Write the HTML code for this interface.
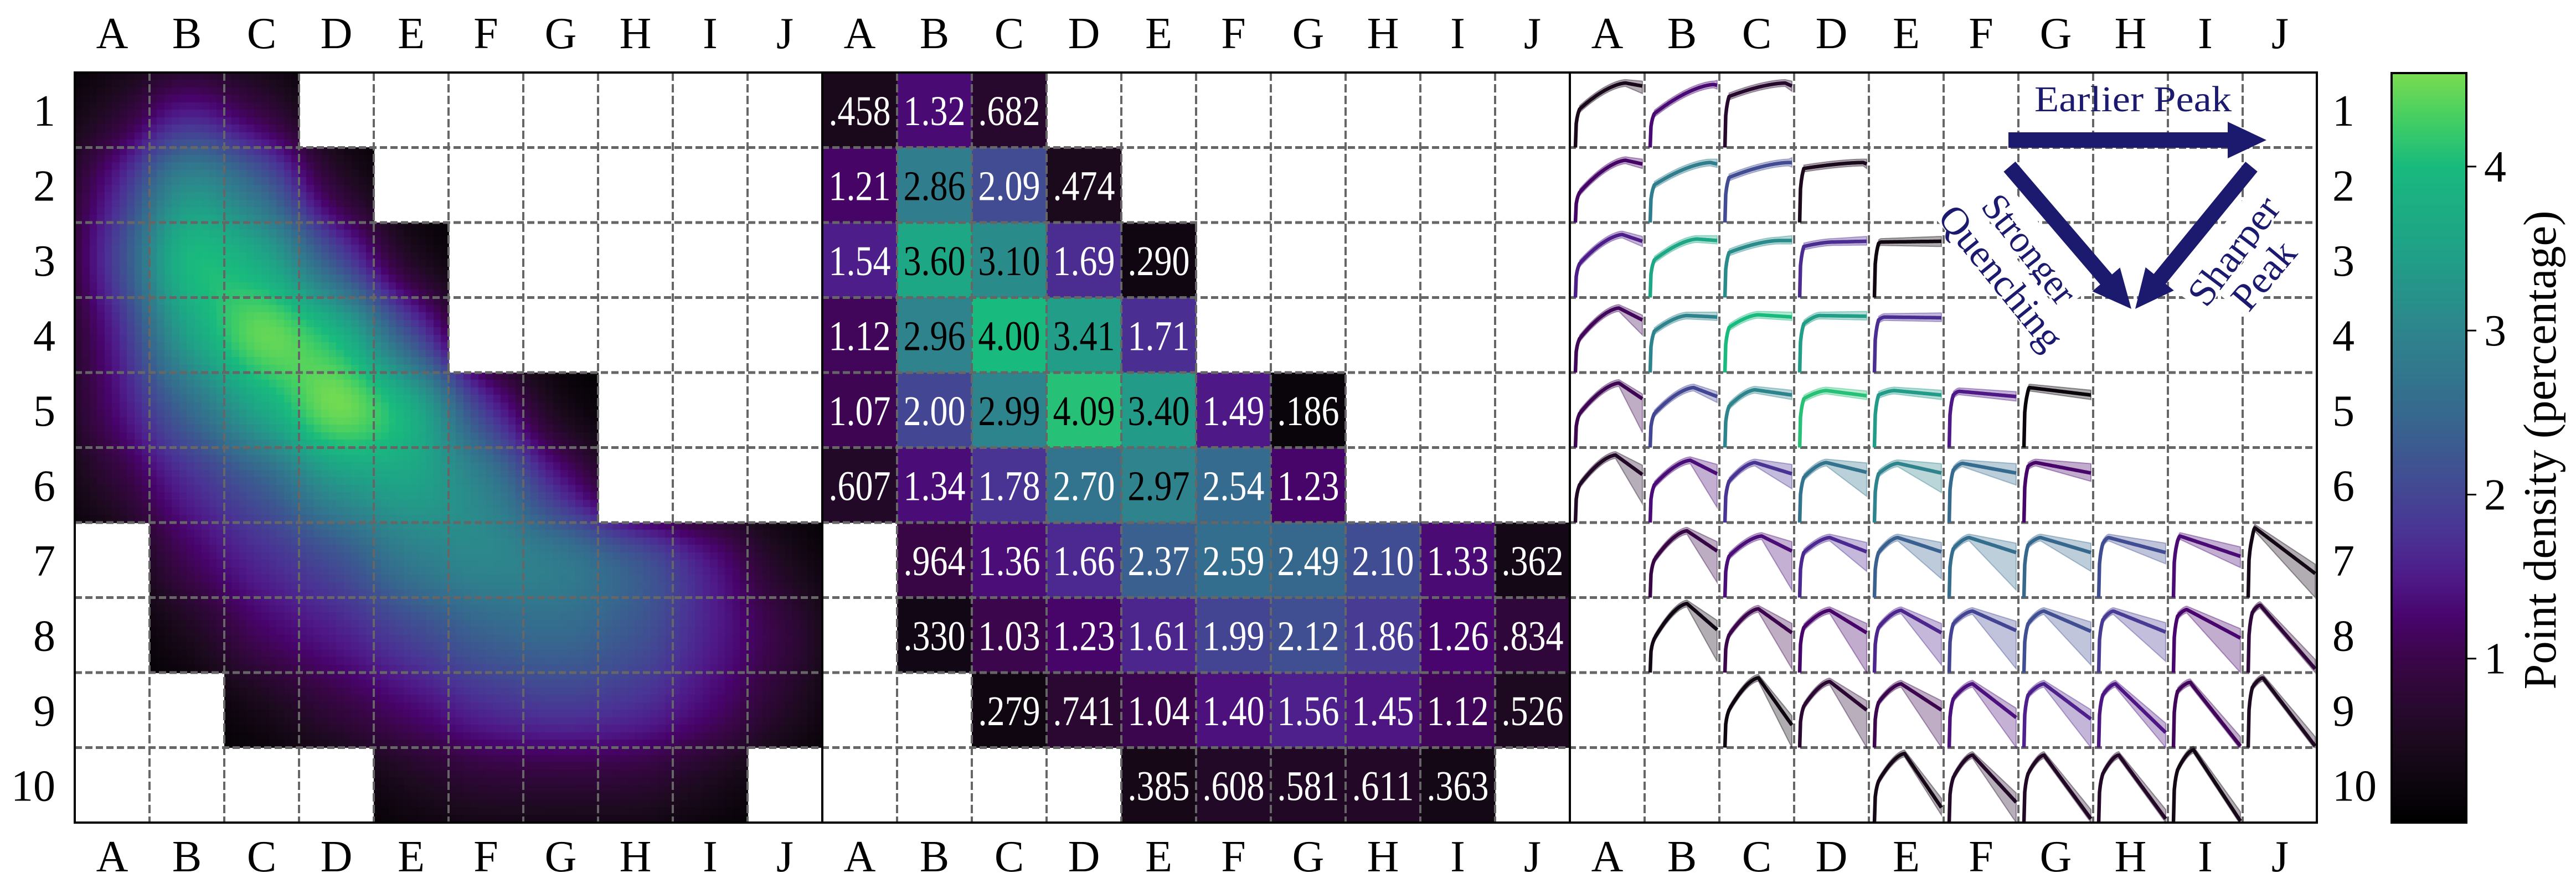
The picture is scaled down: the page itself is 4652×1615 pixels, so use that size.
<!DOCTYPE html>
<html><head><meta charset="utf-8">
<style>
html,body{margin:0;padding:0;background:#fff;}
#wrap{position:relative;width:4652px;height:1615px;overflow:hidden;background:#fff;}
#dens{position:absolute;left:135px;top:131px;}
#svg{position:absolute;left:0;top:0;}
text{font-family:"Liberation Serif",serif;}
</style></head>
<body>
<div id="wrap">
<canvas id="dens" width="1350" height="1355"></canvas>
<svg id="svg" width="4652" height="1615" xmlns="http://www.w3.org/2000/svg"></svg>
</div>
<script>
// ---------- data ----------
const colLabels = ['A','B','C','D','E','F','G','H','I','J'];
const rowLabels = ['1','2','3','4','5','6','7','8','9','10'];
const _ = null;
const cellDensity = [
[0.458,1.32,0.682,_,_,_,_,_,_,_],
[1.21,2.86,2.09,0.474,_,_,_,_,_,_],
[1.54,3.60,3.10,1.69,0.290,_,_,_,_,_],
[1.12,2.96,4.00,3.41,1.71,_,_,_,_,_],
[1.07,2.00,2.99,4.09,3.40,1.49,0.186,_,_,_],
[0.607,1.34,1.78,2.70,2.97,2.54,1.23,_,_,_],
[_,0.964,1.36,1.66,2.37,2.59,2.49,2.10,1.33,0.362],
[_,0.330,1.03,1.23,1.61,1.99,2.12,1.86,1.26,0.834],
[_,_,0.279,0.741,1.04,1.40,1.56,1.45,1.12,0.526],
[_,_,_,_,0.385,0.608,0.581,0.611,0.363,_]];
const colorbarTicks = [1,2,3,4];
const jumpH = [
[0.51,0.45,0.68,_,_,_,_,_,_,_],
[0.40,0.50,0.60,0.72,_,_,_,_,_,_],
[0.45,0.50,0.60,0.68,0.72,_,_,_,_,_],
[0.45,0.55,0.60,0.65,0.70,_,_,_,_,_],
[0.45,0.45,0.55,0.65,0.70,0.70,0.75,_,_,_],
[0.50,0.50,0.55,0.60,0.65,0.70,0.75,_,_,_],
[_,0.50,0.55,0.60,0.60,0.65,0.70,0.72,0.75,0.80],
[_,0.45,0.50,0.60,0.60,0.65,0.65,0.70,0.75,0.80],
[_,_,0.50,0.55,0.60,0.65,0.70,0.70,0.75,0.80],
[_,_,_,_,0.55,0.60,0.65,0.65,0.70,_]];
const peakT = [
[0.75,0.95,0.90,_,_,_,_,_,_,_],
[0.75,0.90,0.95,0.95,_,_,_,_,_,_],
[0.70,0.70,0.80,0.50,0.10,_,_,_,_,_],
[0.65,0.55,0.50,0.30,0.15,_,_,_,_,_],
[0.65,0.65,0.45,0.40,0.30,0.15,0.08,_,_,_],
[0.60,0.60,0.45,0.40,0.35,0.20,0.18,_,_,_],
[_,0.55,0.55,0.45,0.35,0.30,0.25,0.15,0.10,0.10],
[_,0.55,0.50,0.45,0.40,0.35,0.30,0.22,0.20,0.18],
[_,_,0.50,0.45,0.40,0.35,0.30,0.25,0.25,0.22],
[_,_,_,_,0.45,0.35,0.30,0.30,0.30,_]];
const peakH = [
[0.86,0.84,0.86,_,_,_,_,_,_,_],
[0.83,0.80,0.80,0.80,_,_,_,_,_,_],
[0.84,0.78,0.76,0.74,0.74,_,_,_,_,_],
[0.86,0.76,0.77,0.76,0.74,_,_,_,_,_],
[0.86,0.80,0.77,0.76,0.76,0.75,0.80,_,_,_],
[0.90,0.83,0.80,0.80,0.79,0.79,0.80,_,_,_],
[_,0.89,0.82,0.80,0.80,0.80,0.80,0.80,0.82,0.93],
[_,0.92,0.85,0.83,0.83,0.82,0.82,0.82,0.84,0.90],
[_,_,0.93,0.88,0.85,0.85,0.85,0.85,0.87,0.93],
[_,_,_,_,0.92,0.90,0.90,0.90,0.97,_]];
const endH = [
[0.82,0.83,0.82,_,_,_,_,_,_,_],
[0.78,0.78,0.80,0.78,_,_,_,_,_,_],
[0.75,0.76,0.76,0.75,0.75,_,_,_,_,_],
[0.70,0.74,0.74,0.75,0.73,_,_,_,_,_],
[0.65,0.68,0.70,0.69,0.70,0.68,0.70,_,_,_],
[0.64,0.65,0.65,0.67,0.66,0.66,0.66,_,_,_],
[_,0.62,0.62,0.61,0.61,0.60,0.60,0.60,0.55,0.32],
[_,0.57,0.53,0.53,0.53,0.56,0.55,0.54,0.46,0.05],
[_,_,0.30,0.50,0.50,0.40,0.38,0.20,0.02,0.02],
[_,_,_,_,0.20,0.27,0.05,0.05,0.02,_]];
const lowEnd = [
[0.72,0.78,0.75,_,_,_,_,_,_,_],
[0.72,0.74,0.74,0.72,_,_,_,_,_,_],
[0.68,0.72,0.72,0.70,0.68,_,_,_,_,_],
[0.50,0.70,0.70,0.70,0.68,_,_,_,_,_],
[0.20,0.60,0.64,0.64,0.64,0.62,0.64,_,_,_],
[0.25,0.20,0.45,0.35,0.40,0.50,0.55,_,_,_],
[_,0.20,0.10,0.35,0.25,0.10,0.35,0.45,0.40,0.0],
[_,0.15,0.05,0.0,0.10,0.05,0.10,0.15,0.0,0.0],
[_,_,0.0,0.0,0.0,0.0,0.0,0.0,0.0,0.0],
[_,_,_,_,0.10,0.0,0.0,0.0,0.0,_]];

// ---------- layout ----------
const TOP=131, BOT=1486, CW=135, RH=135.5;
const panels=[135,1485,2835];
const RIGHT=4184;
const VMAX=4.57;
const NS='http://www.w3.org/2000/svg';
const svg=document.getElementById('svg');
function el(tag,attrs,parent){const e=document.createElementNS(NS,tag);for(const k in attrs)e.setAttribute(k,attrs[k]);(parent||svg).appendChild(e);return e;}
function xCell(p,c){return panels[p]+c*CW;}
function yCell(r){return TOP+r*RH;}

const cmStops=[[0,[0,0,0]],[0.5,[28,10,30]],[1.0,[58,6,72]],[1.25,[72,4,108]],[1.5,[78,26,136]],[1.75,[74,50,148]],[2.0,[67,70,147]],[2.5,[54,105,142]],[3.0,[45,133,140]],[3.5,[31,162,135]],[4.0,[25,186,126]],[4.3,[69,207,98]],[4.57,[122,220,80]]];
function cmap(v){v=Math.max(0,Math.min(VMAX,v));for(let i=1;i<cmStops.length;i++){if(v<=cmStops[i][0]){const a=cmStops[i-1],b=cmStops[i];const f=(v-a[0])/(b[0]-a[0]);const c=a[1].map((x,k)=>Math.round(x+(b[1][k]-x)*f));return 'rgb('+c.join(',')+')';}}return 'rgb(122,220,80)';}

// ---------- panel 1 ----------
(function(){
  const cv=document.getElementById('dens');const ctx=cv.getContext('2d');
  const N=10, sig=0.5;
  for(let by=0;by<100;by++){for(let bx=0;bx<100;bx++){
    const r=Math.floor(by/N), c=Math.floor(bx/N);
    if(cellDensity[r][c]===null) continue;
    const fy=(by+0.5)/N-0.5, fx=(bx+0.5)/N-0.5;
    let num=0,den=0;
    for(let rr=r-3;rr<=r+3;rr++)for(let cc=c-3;cc<=c+3;cc++){
      const g=Math.exp(-((rr-fy)**2+(cc-fx)**2)/(2*sig*sig));
      den+=g;
      if(rr>=0&&rr<10&&cc>=0&&cc<10&&cellDensity[rr][cc]!==null) num+=g*cellDensity[rr][cc];
    }
    const v=1.22*num/den;
    ctx.fillStyle=cmap(v);
    ctx.fillRect(Math.floor(bx*13.5),Math.floor(by*13.55),15,15);
  }}
})();

// ---------- panel 2 ----------
const g2=el('g',{});


for(let r=0;r<10;r++)for(let c=0;c<10;c++){
  const v=cellDensity[r][c]; if(v===null) continue;
  const rc=el('rect',{x:xCell(1,c),y:yCell(r),width:CW+0.5,height:RH+0.5,fill:cmap(v)},g2);
  
  
  const lab=v<1?v.toFixed(3).slice(1):v.toFixed(2);
  const t=el('text',{x:xCell(1,c)+CW/2,y:yCell(r)+RH/2+27,'text-anchor':'middle','font-size':76,fill:v>2.8?'#000':'#fff',textLength:112,lengthAdjust:'spacingAndGlyphs'},g2);
  t.textContent=lab;
  
  
}

// ---------- grid ----------
const gg=el('g',{stroke:'#666',fill:'none'});


for(let p=0;p<3;p++)for(let c=1;c<10;c++){el('line',{x1:xCell(p,c),x2:xCell(p,c),y1:TOP,y2:BOT,'stroke-dasharray':'15 6','stroke-width':4},gg);}
for(let r=1;r<10;r++){el('line',{x1:135,x2:RIGHT,y1:yCell(r),y2:yCell(r),'stroke-dasharray':'13 6','stroke-width':5},gg);}

// ---------- panel 3 ----------
const g3=el('g',{});


function curveY(r,c,t){
  const j=jumpH[r][c],p=peakT[r][c],h=peakH[r][c],e=endH[r][c];
  const t0=0.06;
  if(t<t0) return j*Math.pow(t/t0,0.3);
  if(t<=p){const u=(t-t0)/Math.max(p-t0,1e-6);return j+(h-j)*(1-Math.pow(1-u,1.6));}
  return h+(e-h)*(t-p)/(1-p);
}
for(let r=0;r<10;r++)for(let c=0;c<10;c++){
  if(jumpH[r][c]===null) continue;
  const x0=xCell(2,c)+10, wdt=121, yb=yCell(r+1);
  const col=cmap(cellDensity[r][c]);
  const p=peakT[r][c], e=endH[r][c], lo=lowEnd[r][c];
  const hiExtra=r>=5?0.08:0.02;
  const up=[],dn=[],ln=[];
  for(let i=0;i<=80;i++){
    const t=i/80, y=curveY(r,c,t);
    const X=x0+t*wdt;
    ln.push(X.toFixed(1)+','+(yb-y*RH).toFixed(1));
    if(t>=0.06){
      const f=t>p?(t-p)/(1-p):0;
      const yu=y+0.045+hiExtra*f;
      let yl=y-0.045-Math.max(0,(e-0.045-lo))*f; yl=Math.max(0,yl);
      up.push(X.toFixed(1)+','+(yb-yu*RH).toFixed(1));
      dn.unshift(X.toFixed(1)+','+(yb-yl*RH).toFixed(1));
    }
  }
  const band=el('polygon',{points:up.concat(dn).join(' '),fill:col,'fill-opacity':0.33,stroke:col,'stroke-opacity':0.4,'stroke-width':2},g3);
  
  
  const pl=el('polyline',{points:ln.join(' '),fill:'none',stroke:col,'stroke-width':6.5,'stroke-linejoin':'round'},g3);
  
  
}

// ---------- borders ----------
const gb=el('g',{stroke:'#000','stroke-width':4,fill:'none'});


el('rect',{x:135,y:TOP,width:RIGHT-135,height:BOT-TOP},gb);
el('line',{x1:1485,x2:1485,y1:TOP,y2:BOT},gb);
el('line',{x1:2835,x2:2835,y1:TOP,y2:BOT},gb);

// ---------- axis labels ----------
for(let p=0;p<3;p++)for(let c=0;c<10;c++){
  const cx=xCell(p,c)+CW/2;
  const t1=el('text',{x:cx,y:87,'text-anchor':'middle','font-size':80});t1.textContent=colLabels[c];
  
  
  const t2=el('text',{x:cx,y:1574,'text-anchor':'middle','font-size':80});t2.textContent=colLabels[c];
  
  
}
for(let r=0;r<10;r++){
  const cy=yCell(r)+RH/2+28;
  const t1=el('text',{x:100,y:cy,'text-anchor':'end','font-size':80});t1.textContent=rowLabels[r];
  
  
  const t2=el('text',{x:4212,y:cy,'text-anchor':'start','font-size':80});t2.textContent=rowLabels[r];
  
  
}

// ---------- colorbar ----------
const defs=el('defs',{});
const lg=el('linearGradient',{id:'cbg',x1:0,y1:1,x2:0,y2:0},defs);
for(let i=0;i<=40;i++){const v=VMAX*i/40;el('stop',{offset:(i/40),'stop-color':cmap(v)},lg);}
const CBT=132, CBB=1486;
const cb=el('rect',{x:4319,y:CBT,width:135,height:CBB-CBT,fill:'url(#cbg)',stroke:'#000','stroke-width':4});


function cbY(v){return CBB-(v/VMAX)*(CBB-CBT);}
for(const v of colorbarTicks){
  const y=cbY(v);
  const tk=el('line',{x1:4454,x2:4472,y1:y,y2:y,stroke:'#000','stroke-width':3});
  
  
  const tl=el('text',{x:4486,y:y+27,'font-size':80});tl.textContent=String(v);
  
  
}
const cbl=el('text',{x:0,y:0,'text-anchor':'middle','font-size':84,textLength:865,lengthAdjust:'spacingAndGlyphs',transform:'translate(4615,813) rotate(-90)'});
cbl.textContent='Point density (percentage)';



// ---------- annotations ----------
const NAVY='#1b1a6f';
const ga=el('g',{});


function arrow(x1,y1,x2,y2,name){
  const dx=x2-x1,dy=y2-y1,L=Math.hypot(dx,dy),ux=dx/L,uy=dy/L,nx=-uy,ny=ux;
  const w=14,hw=33,hl=70;
  const bx=x2-ux*hl,by=y2-uy*hl;
  const pts=[[x1+nx*w,y1+ny*w],[bx+nx*w,by+ny*w],[bx+nx*hw,by+ny*hw],[x2,y2],[bx-nx*hw,by-ny*hw],[bx-nx*w,by-ny*w],[x1-nx*w,y1-ny*w]];
  const a=el('polygon',{points:pts.map(p=>p[0].toFixed(1)+','+p[1].toFixed(1)).join(' '),fill:NAVY},ga);
  
  
}
function rtext(str,cx,cy,ang,len,name){
  const gr=el('g',{transform:'translate('+cx+','+cy+') rotate('+ang+')'},ga);
  el('rect',{x:-len/2-8,y:-44,width:len+16,height:68,fill:'#fff'},gr);
  const t=el('text',{x:0,y:22,'text-anchor':'middle','font-size':70,fill:NAVY,textLength:len,lengthAdjust:'spacingAndGlyphs'},gr);
  t.textContent=str;
  
  
}
const ep=el('text',{x:3674,y:201,'font-size':66,fill:NAVY,textLength:356,lengthAdjust:'spacingAndGlyphs'},ga);
ep.textContent='Earlier Peak';


arrow(3627,253,4093,253,'earlier-peak-arrow');
arrow(3629,301,3849,558,'stronger-quenching-arrow');
arrow(4066,301,3856,558,'sharper-peak-arrow');
rtext('Stronger',3664,451,52,231,'stronger-label');
rtext('Quenching',3613,502,51,314,'quenching-label');
rtext('Sharper',4035,454,-53,227,'sharper-label');
rtext('Peak',4089,498,-50,140,'peak-label');
</script>
</body></html>
